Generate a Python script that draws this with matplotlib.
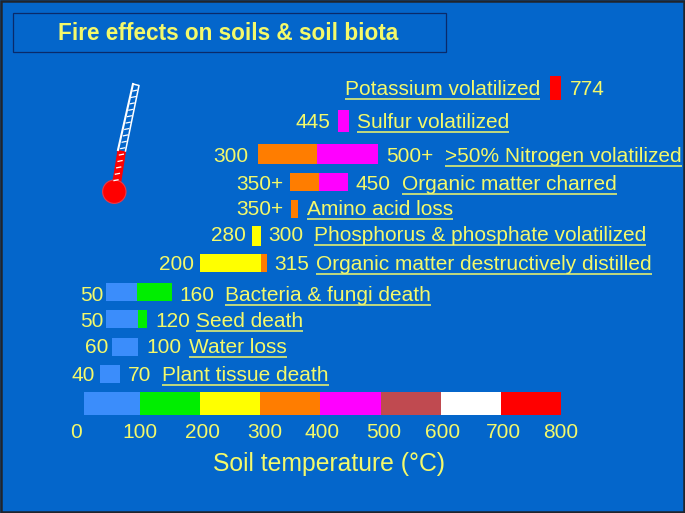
import matplotlib
matplotlib.use("Agg")
import matplotlib.pyplot as plt
from matplotlib.transforms import Affine2D
from matplotlib.patches import Circle, Rectangle

W, H = 685, 513
BG = "#0466cb"
YEL = "#f4f96a"
BLUE = "#3b8dfb"; GREEN = "#00ee00"; YELLOW = "#ffff00"; ORANGE = "#ff7d00"
MAGENTA = "#ff00ff"; BROWN = "#c04a50"; WHITE = "#ffffff"; RED = "#ff0000"

# Temperature scale band
band_edges = [7, 100, 200, 300, 400, 500, 600, 700, 800]
band_colors = [BLUE, GREEN, YELLOW, ORANGE, MAGENTA, BROWN, WHITE, RED]
tick_labels = ["0", "100", "200", "300", "400", "500", "600", "700", "800"]

# Effects: bar edges (deg C) and colours
effects = ["Potassium volatilized", "Sulfur volatilized", ">50% Nitrogen volatilized",
           "Organic matter charred", "Amino acid loss",
           "Phosphorus & phosphate volatilized", "Organic matter destructively distilled",
           "Bacteria & fungi death", "Seed death", "Water loss", "Plant tissue death"]
edges = [[781, 800], [429, 448], [296, 395, 495], [350, 398, 446], [351, 362],
         [287, 301], [199, 302, 311], [43, 95, 153], [43, 97, 112], [54, 97], [33, 67]]
colors = [[RED], [MAGENTA], [ORANGE, MAGENTA], [ORANGE, MAGENTA], [ORANGE],
          [YELLOW], [YELLOW, ORANGE], [BLUE, GREEN], [BLUE, GREEN], [BLUE], [BLUE]]
low_labels = ["", "445", "300", "350+", "350+", "280", "200", "50", "50", "60", "40"]
high_labels = ["774", "", "500+", "450", "", "300", "315", "160", "120", "100", "70"]

# Layout (pixels)
bar_top = [75.5, 109.5, 144, 173, 199.5, 225.5, 253.5, 283, 310, 338, 365]
bar_bot = [99.5, 132, 164, 191, 218, 246, 272, 301, 328, 356, 383]
base_y = [95, 128, 162, 190, 215, 241, 270, 301, 327, 353, 381]
label_x = [345, 357, 445, 402, 307, 314, 316, 225, 196, 189, 162]
low_x = [0, 296, 213, 236, 236, 211, 159, 80, 80, 85, 71]
high_x = [570, 0, 386, 356, 0, 268, 274, 179, 155, 146, 128]
tick_x = [76, 140, 202, 265, 322, 384, 443, 503, 561]

plt.rcParams["font.family"] = "Liberation Sans"
fig = plt.figure(figsize=(W / 100, H / 100), dpi=100, facecolor=BG)
ax = fig.add_axes([0, 0, 1, 1])
ax.set_facecolor(BG)
# x axis: degrees C -> 100 at 140 px, 800 at 561 px
k = (561 - 140) / 700
x0 = 140 - 100 * k
ax.set_xlim(-x0 / k, (W - x0) / k)
ax.set_ylim(H, 0)
ax.axis("off")
pix = Affine2D().scale(1, -1).translate(0, H)


def txt(x, y, s, size=15, **kw):
    return ax.text(x, y, s, transform=pix, color=YEL, fontsize=size, va="baseline", **kw)


# frame and title box
ax.add_patch(Rectangle((1, 1), W - 2, H - 2, transform=pix, fill=False, ec="#20242c", lw=1.8))
ax.add_patch(Rectangle((12.5, 12.5), 433.5, 39.5, transform=pix, fill=False, ec="#0a2a6a", lw=0.9))
txt(58, 40, "Fire effects on soils & soil biota", size=16.3, fontweight="bold")

# effect bars and labels
fig.canvas.draw()
rend = fig.canvas.get_renderer()
for i, name in enumerate(effects):
    for j, c in enumerate(colors[i]):
        ax.barh((bar_top[i] + bar_bot[i]) / 2, edges[i][j + 1] - edges[i][j], left=edges[i][j],
                height=bar_bot[i] - bar_top[i], color=c, lw=0)
    t = txt(label_x[i], base_y[i], name)
    e = t.get_window_extent(rend)
    ax.plot([e.x0, e.x1], [base_y[i] + 4] * 2, transform=pix, color=YEL, lw=1.1, solid_capstyle="butt")
    if low_labels[i]:
        txt(low_x[i], base_y[i], low_labels[i])
    if high_labels[i]:
        txt(high_x[i], base_y[i], high_labels[i])

# scale band
for j, c in enumerate(band_colors):
    ax.barh(403.5, band_edges[j + 1] - band_edges[j], left=band_edges[j], height=23, color=c, lw=0)
for x, s in zip(tick_x, tick_labels):
    txt(x, 438, s, ha="center")
txt(213, 471, "Soil temperature (\u00b0C)", size=17.85)

# thermometer
ax.fill([117.5, 126, 121, 112], [150, 151.5, 184, 184], transform=pix, color=RED, lw=0)
ax.plot([133, 139, 125.5], [84, 85.5, 151], transform=pix, color="white", lw=1.1)
ax.plot([118, 133], [150, 84], transform=pix, color="white", lw=1.5)
for n in range(15):
    yy = 91 + n * 6.4
    xr = 138 - (yy - 85.5) * 0.21
    ax.plot([xr - 4, xr], [yy, yy - 0.8], transform=pix, color="white", lw=0.9)
ax.add_patch(Circle((114.3, 191.7), 11.7, transform=pix, fc=RED, ec="#e83a4a", lw=0.8))

fig.savefig("out.png", dpi=100, facecolor=BG)
